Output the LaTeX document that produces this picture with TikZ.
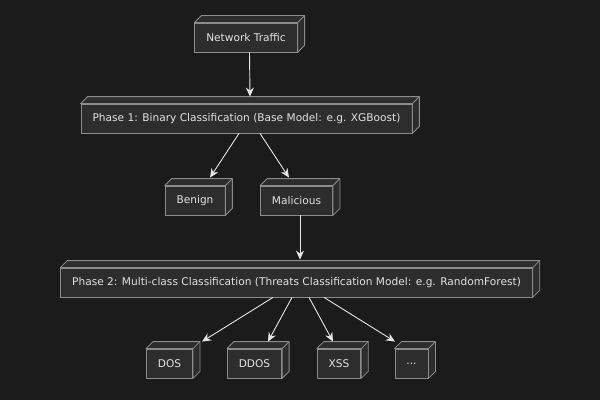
\documentclass[tikz,border=0pt]{standalone}
\usepackage{fontspec}
\setmainfont{DejaVu Sans}
\usepackage{tikz}
\usetikzlibrary{arrows.meta}
\usepackage{xcolor}
\definecolor{bgdark}{HTML}{1B1B1B}
\definecolor{boxfill}{HTML}{2D2D2D}
\definecolor{boxedge}{HTML}{8C8C8C}
\definecolor{txtlight}{HTML}{E2E2E2}
\definecolor{arrlight}{HTML}{E6E6E6}
\tikzset{
  stage/.style={draw=boxedge, fill=boxfill, text=txtlight, font=\fontsize{10.6}{12}\selectfont,
    minimum height=29pt, inner xsep=11.5pt, line width=0.8pt},
  face/.style={draw=boxedge, fill=boxfill, line width=0.8pt, line join=round},
  flow/.style={draw=arrlight, line width=0.9pt, -{Stealth[length=9pt,width=8pt,inset=3pt]}}
}
% top and right side of a box
\newcommand{\boxdepth}[1]{%
  \filldraw[face] (#1.north west) -- ++(7pt,7pt) -- ([shift={(7pt,7pt)}]#1.north east)
    -- ([shift={(7pt,7pt)}]#1.south east) -- (#1.south east) -- (#1.north east) -- cycle;
  \draw[face] (#1.north east) -- ++(7pt,7pt);}

\begin{document}
\begin{tikzpicture}[x=1pt,y=1pt]
  \fill[bgdark] (0,0) rectangle (600,400);
  \useasboundingbox (0,0) rectangle (600,400);

  \node[stage] (traffic) at (246,362.5) {Network Traffic}; \boxdepth{traffic}
  \node[stage] (phaseone) at (246.5,281.5) {Phase 1: Binary Classification (Base Model: e.g. XGBoost)}; \boxdepth{phaseone}
  \node[stage] (benign) at (195,199.5) {Benign}; \boxdepth{benign}
  \node[stage] (malicious) at (296.5,199.5) {Malicious}; \boxdepth{malicious}
  \node[stage] (phasetwo) at (296.5,117.5) {Phase 2: Multi-class Classification (Threats Classification Model: e.g. RandomForest)}; \boxdepth{phasetwo}
  \node[stage] (dos) at (169.5,36.5) {DOS}; \boxdepth{dos}
  \node[stage] (ddos) at (254.5,36.5) {DDOS}; \boxdepth{ddos}
  \node[stage] (xss) at (339,36.5) {XSS}; \boxdepth{xss}
  \node[stage] (more) at (411.5,36.5) {...}; \boxdepth{more}

  \draw[flow] ([xshift=3.5pt]traffic.south) -- ([xshift=3.5pt,yshift=7pt]phaseone.north);
  \draw[flow] ([xshift=-7.5pt]phaseone.south) -- ([xshift=15pt,yshift=8pt]benign.north);
  \draw[flow] ([xshift=13.5pt]phaseone.south) -- ([xshift=-7.5pt,yshift=8pt]malicious.north);
  \draw[flow] ([xshift=3.5pt]malicious.south) -- ([xshift=3.5pt,yshift=8pt]phasetwo.north);
  \draw[flow] ([xshift=-23.5pt]phasetwo.south) -- ([xshift=32.5pt,yshift=7pt]dos.north);
  \draw[flow] ([xshift=-4.5pt]phasetwo.south) -- ([xshift=13.5pt,yshift=7pt]ddos.north);
  \draw[flow] ([xshift=12.5pt]phasetwo.south) -- ([xshift=-6pt,yshift=7pt]xss.north);
  \draw[flow] ([xshift=27.5pt]phasetwo.south) -- ([xshift=-16.5pt,yshift=7pt]more.north);
\end{tikzpicture}
\end{document}
